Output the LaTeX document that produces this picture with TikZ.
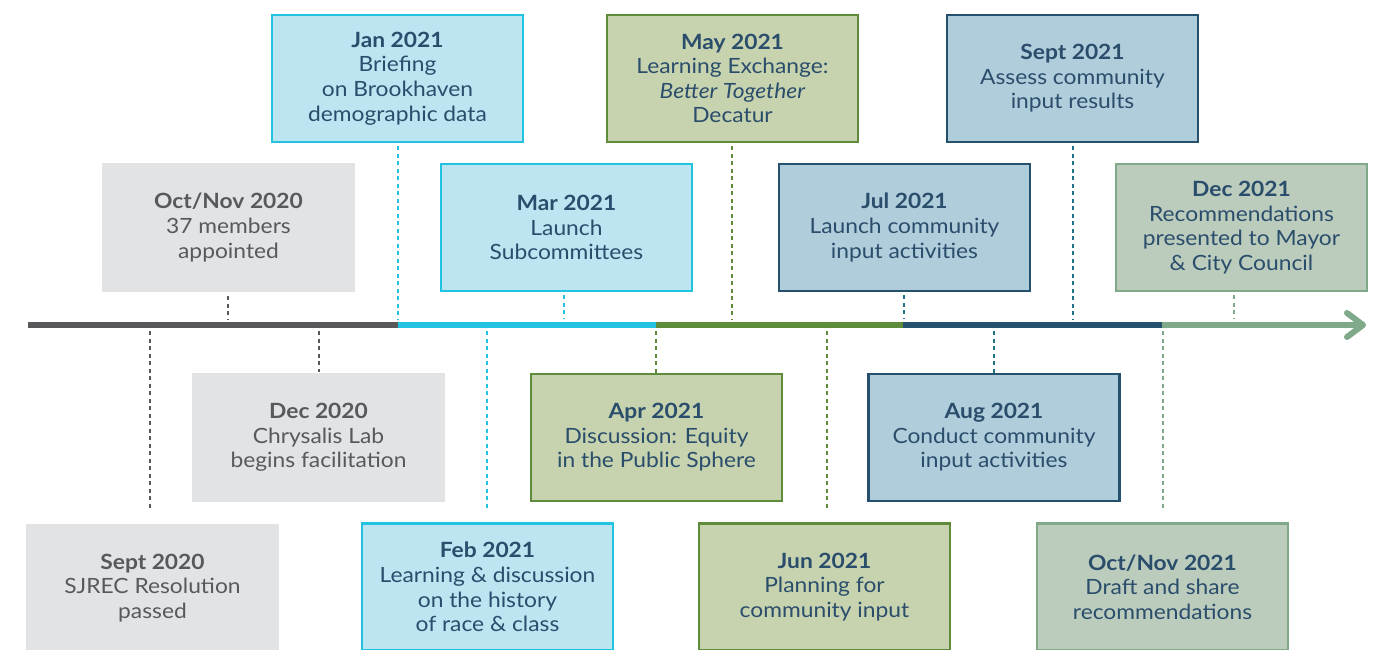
\documentclass[tikz,border=0pt]{standalone}
\usepackage{fontspec}
\setmainfont{Lato}[FakeStretch=1.085]
\definecolor{gline}{HTML}{58585A}
\definecolor{gbox}{HTML}{E2E3E5}
\definecolor{gtext}{HTML}{58595B}
\definecolor{cline}{HTML}{22C3E0}
\definecolor{cfill}{HTML}{BCE4F1}
\definecolor{grline}{HTML}{5E8C3A}
\definecolor{grfill}{HTML}{C6D3AE}
\definecolor{dbline}{HTML}{25506E}
\definecolor{dbfill}{HTML}{B0CDDB}
\definecolor{sgline}{HTML}{80A98A}
\definecolor{sgfill}{HTML}{BBCCBC}
\definecolor{txtblue}{HTML}{2A4D6C}
\tikzset{
  ev/.style={minimum width=251pt, minimum height=127pt, inner sep=0pt, align=center,
    font=\fontsize{21}{24.6}\selectfont, text=txtblue, line width=2.6pt},
  grayev/.style={ev, fill=gbox, text=gtext, minimum width=253pt, minimum height=129pt},
  cyanev/.style={ev, fill=cfill, draw=cline},
  greenev/.style={ev, fill=grfill, draw=grline},
  dbev/.style={ev, fill=dbfill, draw=dbline},
  sageev/.style={ev, fill=sgfill, draw=sgline},
  conn/.style={line width=1.8pt, dash pattern=on 4pt off 3.5pt},
  tl/.style={line width=6pt},
}
\begin{document}
\begin{tikzpicture}[x=1pt,y=-1pt]
\useasboundingbox (0,0) rectangle (1385,649);
\clip (0,0) rectangle (1385,649);
% timeline coordinates
\coordinate (s0) at (28,325);
\coordinate (s1) at (398,325);
\coordinate (s2) at (656,325);
\coordinate (s3) at (903,325);
\coordinate (s4) at (1162,325);
\coordinate (s5) at (1363,325);
\coordinate (aU) at (1347,313);
\coordinate (aD) at (1347,337);
% boxes
\node[grayev] (sep20) at (152.5,588) {\textbf{Sept 2020}\\SJREC Resolution\\passed};
\node[grayev] (oct20) at (228.5,227.5) {\textbf{Oct/Nov 2020}\\37 members\\appointed};
\node[grayev] (dec20) at (318.5,437.5) {\textbf{Dec 2020}\\Chrysalis Lab\\begins facilitation};
\node[cyanev] (jan21) at (397.5,78.5) {\textbf{Jan 2021}\\Briefing\\on Brookhaven\\demographic data};
\node[cyanev] (feb21) at (487.5,587) {\textbf{Feb 2021}\\Learning \& discussion\\on the history\\of race \& class};
\node[cyanev] (mar21) at (566.5,227.5) {\textbf{Mar 2021}\\Launch\\Subcommittees};
\node[greenev] (apr21) at (656.5,437.5) {\textbf{Apr 2021}\\Discussion: Equity\\in the Public Sphere};
\node[greenev] (may21) at (732.5,78.5) {\textbf{May 2021}\\Learning Exchange:\\\textit{Better Together}\\Decatur};
\node[greenev] (jun21) at (824.5,587) {\textbf{Jun 2021}\\Planning for\\community input};
\node[dbev] (jul21) at (904.5,227.5) {\textbf{Jul 2021}\\Launch community\\input activities};
\node[dbev] (aug21) at (994,437.5) {\textbf{Aug 2021}\\Conduct community\\input activities};
\node[dbev] (sep21) at (1072.5,78.5) {\textbf{Sept 2021}\\Assess community\\input results};
\node[sageev] (octnov21) at (1162.5,587) {\textbf{Oct/Nov 2021}\\Draft and share\\recommendations};
\node[sageev] (dec21) at (1241.5,227.5) {\textbf{Dec 2021}\\Recommendations\\presented to Mayor\\\& City Council};
% connector end points
\coordinate (cSep20) at (150,331);   \coordinate (eSep20) at (150,508);
\coordinate (cOct20) at (228,319);
\coordinate (cDec20) at (319,331);
\coordinate (cJan21) at (398,319);
\coordinate (cFeb21) at (487,331);   \coordinate (eFeb21) at (487,508);
\coordinate (cMar21) at (564,319);
\coordinate (cApr21) at (656,331);
\coordinate (cMay21) at (732,319);
\coordinate (cJun21) at (827,331);   \coordinate (eJun21) at (827,508);
\coordinate (cJul21) at (904,319);
\coordinate (cAug21) at (994,331);
\coordinate (cSep21) at (1073,319);
\coordinate (cOct21) at (1163,331);  \coordinate (eOct21) at (1163,508);
\coordinate (cDec21) at (1234,319);
% connectors
\draw[conn, gline] (cSep20) -- (eSep20);
\draw[conn, gline] (oct20.south -| cOct20) ++(0,3) -- (cOct20);
\draw[conn, gline] (cDec20) -- (dec20.north -| cDec20);
\draw[conn, cline] (jan21.south -| cJan21) ++(0,3) -- (cJan21);
\draw[conn, cline] (cFeb21) -- (eFeb21);
\draw[conn, cline] (mar21.south -| cMar21) ++(0,3) -- (cMar21);
\draw[conn, grline] (cApr21) -- (apr21.north -| cApr21);
\draw[conn, grline] (may21.south -| cMay21) ++(0,3) -- (cMay21);
\draw[conn, grline] (cJun21) -- (eJun21);
\draw[conn, dbline!80!cyan] (jul21.south -| cJul21) ++(0,3) -- (cJul21);
\draw[conn, dbline!80!cyan] (cAug21) -- (aug21.north -| cAug21);
\draw[conn, dbline!80!cyan] (sep21.south -| cSep21) ++(0,3) -- (cSep21);
\draw[conn, sgline] (cOct21) -- (eOct21);
\draw[conn, sgline] (dec21.south -| cDec21) ++(0,3) -- (cDec21);
% timeline
\draw[tl, gline] (s0) -- (s1);
\draw[tl, cline] (s1) -- (s2);
\draw[tl, grline] (s2) -- (s3);
\draw[tl, dbline] (s3) -- (s4);
\draw[tl, sgline] (s4) -- (s5);
\draw[tl, sgline, line cap=round, line join=round] (aU) -- (s5) -- (aD);
\end{tikzpicture}
\end{document}
